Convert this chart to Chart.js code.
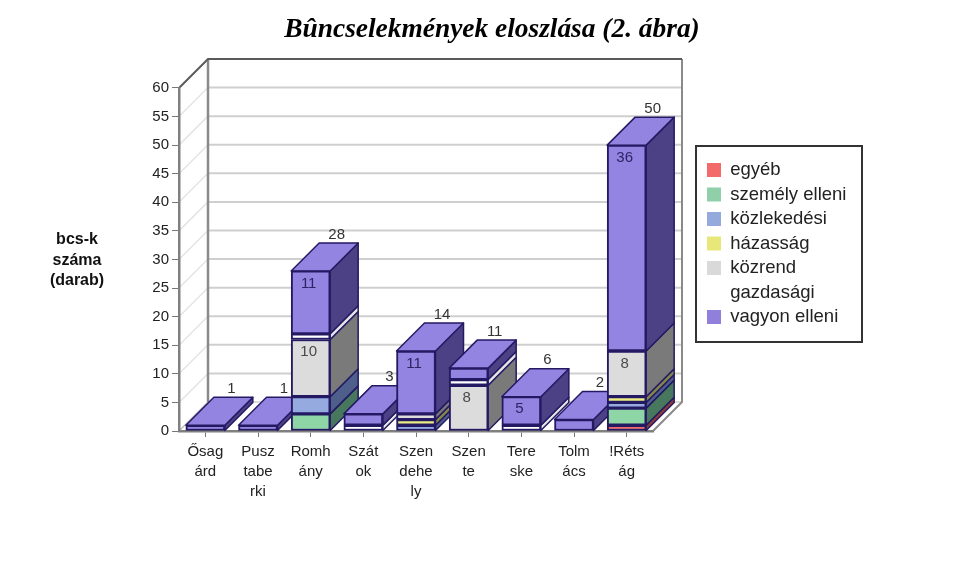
<!DOCTYPE html>
<html>
<head>
<meta charset="utf-8">
<style>
html,body{margin:0;padding:0;background:#fff;overflow:hidden}
#wrap{position:relative;width:967px;height:570px}
canvas{filter:blur(0.45px)}
</style>
<script src="https://cdn.jsdelivr.net/npm/chart.js@4"></script>
</head>
<body>
<div id="wrap"><canvas id="c" width="967" height="570"></canvas></div>
<script>
const titleText = "Bûncselekmények eloszlása (2. ábra)";
const yTitleLines = ["bcs-k", "száma", "(darab)"];
const categories = [["Ősag","árd"],["Pusz","tabe","rki"],["Romh","ány"],["Szát","ok"],["Szen","dehe","ly"],["Szen","te"],["Tere","ske"],["Tolm","ács"],["!Réts","ág"]];
const seriesNames = ["egyéb","személy elleni","közlekedési","házasság","közrend","gazdasági","vagyon elleni"];
const egyeb      = [null,null,null,null,null,null,null,null,1];
const szemely    = [null,null,3,null,null,null,null,null,3];
const kozlekedes = [null,null,3,null,1,null,null,null,1];
const hazassag   = [null,null,null,null,1,null,null,null,1];
const kozrend    = [null,null,10,null,1,8,null,null,8];
const gazdasagi  = [null,null,1,1,null,1,1,null,null];
const vagyon     = [1,1,11,2,11,2,5,2,36];
const totals     = [1,1,28,3,14,11,6,2,50];
const seriesValues = [egyeb,szemely,kozlekedes,hazassag,kozrend,gazdasagi,vagyon];
const frontColors = ["#f06868","#8fd6a6","#95abe0","#ecec84","#dcdcdc","#ffffff","#9384e2"];
const sideColors  = ["#8c3a3a","#47775c","#4f5f8c","#85854a","#7a7a7a","#e6e6e6","#4c4184"];
const swatchColors= ["#f26a6a","#8fcfaa","#94a9dc","#e8e87a","#d9d9d9","#ffffff","#9080dc"];
const outline = "#241a63";
const WALL = 29, BAR = 28;

const solid3d = {
  id:"solid3d",
  afterLayout(chart){
    // title is centred a little to the right of the page centre
    chart.titleBlock.left = 17;
    chart.titleBlock.right = 967;
    const lg = chart.legend;
    lg.left = 701; lg.top = 145.5; lg.right = lg.left + 160; lg.bottom = lg.top + 196;
    lg.adjustHitBoxes();
  },
  beforeDraw(chart){
    const ctx = chart.ctx, x = chart.scales.x, y = chart.scales.y;
    const L = x.left, R = x.right, B = y.getPixelForValue(0), T = y.getPixelForValue(60);
    ctx.save();
    // gridlines on back and side walls
    y.ticks.forEach(t=>{
      const py = y.getPixelForValue(t.value);
      if(t.value>0 && t.value<60){
        ctx.strokeStyle="#cfcfcf"; ctx.lineWidth=2;
        ctx.beginPath(); ctx.moveTo(L+WALL,py-WALL); ctx.lineTo(R+WALL,py-WALL); ctx.stroke();
        ctx.strokeStyle="#e4e4e4"; ctx.lineWidth=1.5;
        ctx.beginPath(); ctx.moveTo(L,py); ctx.lineTo(L+WALL,py-WALL); ctx.stroke();
      }
    });
    ctx.strokeStyle="#d0d0d0"; ctx.lineWidth=1.5;
    ctx.beginPath(); ctx.moveTo(L+WALL,B-WALL); ctx.lineTo(R+WALL,B-WALL); ctx.stroke();
    ctx.strokeStyle="#bdbdbd";
    ctx.beginPath(); ctx.moveTo(L,B); ctx.lineTo(L+WALL,B-WALL); ctx.stroke();
    // wall frame
    ctx.strokeStyle="#8a8a8a"; ctx.lineWidth=2.5;
    ctx.beginPath(); ctx.moveTo(L+WALL,B-WALL); ctx.lineTo(L+WALL,T-WALL); ctx.stroke();
    ctx.strokeStyle="#8a8a8a"; ctx.lineWidth=2;
    ctx.beginPath(); ctx.moveTo(R+WALL,T-WALL); ctx.lineTo(R+WALL,B-WALL); ctx.lineTo(R,B); ctx.stroke();
    ctx.strokeStyle="#5a5a5a"; ctx.lineWidth=2;
    ctx.beginPath(); ctx.moveTo(L,T); ctx.lineTo(L+WALL,T-WALL); ctx.lineTo(R+WALL,T-WALL); ctx.stroke();
    // legend frame
    ctx.strokeStyle="#333"; ctx.lineWidth=2;
    ctx.strokeRect(696,146,166,196);
    // y axis caption
    ctx.fillStyle="#111"; ctx.font="bold 16px 'Liberation Sans'"; ctx.textAlign="center"; ctx.textBaseline="middle";
    yTitleLines.forEach((s,i)=>ctx.fillText(s,77,240+i*20.5));
    ctx.restore();
  },
  beforeDatasetsDraw(chart){
    const ctx = chart.ctx;
    ctx.save(); ctx.lineJoin="round"; ctx.strokeStyle=outline; ctx.lineWidth=1.5;
    categories.forEach((_,i)=>{
      let top = null;
      seriesValues.forEach((vals,ds)=>{
        if(vals[i]==null) return;
        const el = chart.getDatasetMeta(ds).data[i];
        const r = el.x+el.width/2;
        ctx.fillStyle = sideColors[ds];
        ctx.beginPath(); ctx.moveTo(r,el.y); ctx.lineTo(r+BAR,el.y-BAR); ctx.lineTo(r+BAR,el.base-BAR); ctx.lineTo(r,el.base); ctx.closePath();
        ctx.fill(); ctx.stroke();
        top = {el,ds};
      });
      if(top){
        const {el,ds} = top, l = el.x-el.width/2, r = el.x+el.width/2;
        ctx.fillStyle = frontColors[ds];
        ctx.beginPath(); ctx.moveTo(l,el.y); ctx.lineTo(l+BAR,el.y-BAR); ctx.lineTo(r+BAR,el.y-BAR); ctx.lineTo(r,el.y); ctx.closePath();
        ctx.fill(); ctx.stroke();
      }
    });
    ctx.restore();
  },
  afterDatasetsDraw(chart){
    const ctx = chart.ctx;
    ctx.save(); ctx.font="15px 'Liberation Sans'"; ctx.textAlign="center"; ctx.textBaseline="middle";
    categories.forEach((_,i)=>{
      let top = null;
      seriesValues.forEach((vals,ds)=>{
        if(vals[i]==null) return;
        const el = chart.getDatasetMeta(ds).data[i];
        top = el;
        if(vals[i]>=5){
          ctx.fillStyle = ds===6 ? "#2c2464" : "#4a4a4a";
          ctx.fillText(String(vals[i]),el.x-2,el.y+12.5);
        }
      });
      if(top){
        ctx.fillStyle="#333";
        ctx.fillText(String(totals[i]),top.x+26,top.y-BAR-8.5);
      }
    });
    ctx.restore();
  }
};

new Chart(document.getElementById("c"),{
  type:"bar",
  data:{
    labels:categories,
    datasets:seriesNames.map((n,k)=>({
      label:n,
      data:seriesValues[k],
      backgroundColor:frontColors[k],
      borderColor:outline,
      borderWidth:2,
      borderSkipped:false,
      barThickness:39
    }))
  },
  options:{
    responsive:false,
    animation:false,
    layout:{padding:{left:0,right:314,top:0,bottom:0}},
    plugins:{
      tooltip:{enabled:false},
      title:{display:true,text:titleText,color:"#000",
        font:{family:"'Liberation Serif'",size:27.4,weight:"bold",style:"italic",lineHeight:1.2},
        padding:{top:13,bottom:42.1}},
      legend:{
        position:"chartArea",
        labels:{
          boxWidth:14,boxHeight:14,padding:6,color:"#222",
          font:{family:"'Liberation Sans'",size:18.5},
          generateLabels(chart){
            return seriesNames.map((n,k)=>({text:n,fillStyle:swatchColors[k],strokeStyle:"transparent",lineWidth:0,datasetIndex:k,hidden:false,fontColor:"#222"}));
          }
        }
      }
    },
    scales:{
      x:{
        stacked:true,offset:true,
        grid:{display:true,drawOnChartArea:false,offset:false,tickLength:6,color:"#777"},
        border:{display:true,color:"#808080",width:2.5},
        ticks:{color:"#222",maxRotation:0,minRotation:0,autoSkip:false,padding:5,
          font:{family:"'Liberation Sans'",size:15,lineHeight:1.33}},
        afterFit(s){s.height=139;}
      },
      y:{
        stacked:true,min:0,max:60,
        grid:{display:true,drawOnChartArea:false,tickLength:7,color:"#777"},
        border:{display:true,color:"#808080",width:2.5},
        ticks:{stepSize:5,color:"#222",padding:3,font:{family:"'Liberation Sans'",size:15}},
        afterFit(s){s.width=179;}
      }
    }
  },
  plugins:[solid3d]
});
</script>
</body>
</html>
